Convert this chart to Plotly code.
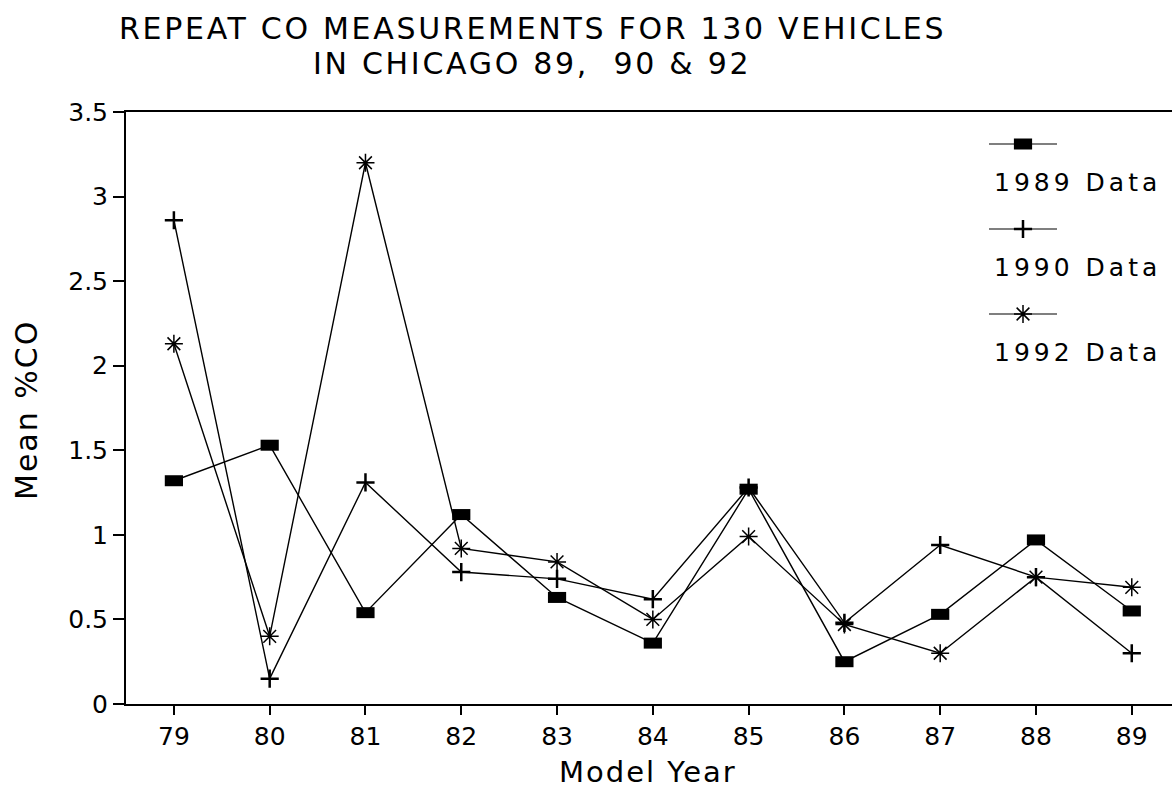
import plotly.graph_objects as go

# ---- data ----
model_years = [79, 80, 81, 82, 83, 84, 85, 86, 87, 88, 89]
tick_labels = ["79", "80", "81", "82", "83", "84", "85", "86", "87", "88", "89"]
co_1989 = [1.32, 1.53, 0.54, 1.12, 0.63, 0.36, 1.27, 0.25, 0.53, 0.97, 0.55]
co_1990 = [2.86, 0.15, 1.31, 0.78, 0.74, 0.62, 1.28, 0.48, 0.94, 0.75, 0.30]
co_1992 = [2.13, 0.40, 3.20, 0.92, 0.84, 0.50, 0.99, 0.47, 0.30, 0.75, 0.69]
series_names = ["1989 Data", "1990 Data", "1992 Data"]
y_ticks = [0, 0.5, 1, 1.5, 2, 2.5, 3, 3.5]
y_tick_labels = ["0", "0.5", "1", "1.5", "2", "2.5", "3", "3.5"]
title_lines = ["REPEAT CO MEASUREMENTS FOR 130 VEHICLES", "IN CHICAGO 89,  90 & 92"]

W, H = 1172, 792
L, R, T, B = 126, 0, 112, 88
FONT = "DejaVu Sans"


def spaced(text, px):
    return '<span style="letter-spacing:%.1fpx">%s</span>' % (px, text)


styles = [
    dict(symbol="line-ew", size=13, line=dict(color="black", width=11)),
    dict(symbol="cross-thin", size=13, line=dict(color="black", width=2.5)),
    dict(symbol="asterisk", size=15, line=dict(color="black", width=1.5)),
]

fig = go.Figure()
for name, vals, st in zip(series_names, [co_1989, co_1990, co_1992], styles):
    fig.add_trace(go.Scatter(
        x=model_years, y=vals, mode="lines+markers", name=name,
        line=dict(color="black", width=1.4),
        marker=dict(color="black", **st),
        showlegend=False,
    ))

# custom legend (line sample above text), on a hidden pixel-space overlay axis
pw, ph = W - L - R, H - T - B
leg_x0, leg_x1 = 989, 1057
leg_line_y = [144, 229, 314]
leg_text_y = [182, 267, 352]
for name, st, ly in zip(series_names, styles, leg_line_y):
    fig.add_trace(go.Scatter(
        x=[leg_x0, leg_x1], y=[ly, ly], mode="lines", xaxis="x2", yaxis="y2",
        line=dict(color="black", width=1.2), showlegend=False, hoverinfo="skip"))
    fig.add_trace(go.Scatter(
        x=[(leg_x0 + leg_x1) / 2], y=[ly], mode="markers", xaxis="x2", yaxis="y2",
        marker=dict(color="black", **st), showlegend=False, hoverinfo="skip"))

annotations = []
for name, ty in zip(series_names, leg_text_y):
    annotations.append(dict(x=992, y=ty, xref="x2", yref="y2", text=spaced(name, 4),
                            showarrow=False, xanchor="left", yanchor="middle",
                            font=dict(family=FONT, size=25, color="black")))


def pxx(px):
    return (px - L) / pw


def pxy(py):
    return (H - B - py) / ph


annotations.append(dict(x=pxx(532), y=pxy(28), xref="paper", yref="paper",
                        text=spaced(title_lines[0], 2.7),
                        showarrow=False, xanchor="center", yanchor="middle",
                        font=dict(family=FONT, size=30, color="black")))
annotations.append(dict(x=pxx(532), y=pxy(64), xref="paper", yref="paper",
                        text=spaced(title_lines[1], 2.7),
                        showarrow=False, xanchor="center", yanchor="middle",
                        font=dict(family=FONT, size=30, color="black")))
annotations.append(dict(x=pxx(648), y=pxy(772), xref="paper", yref="paper",
                        text=spaced("Model Year", 2),
                        showarrow=False, xanchor="center", yanchor="middle",
                        font=dict(family=FONT, size=29, color="black")))
annotations.append(dict(x=pxx(26), y=pxy(410), xref="paper", yref="paper",
                        text=spaced("Mean %CO", 2),
                        showarrow=False, xanchor="center", yanchor="middle", textangle=-90,
                        font=dict(family=FONT, size=30, color="black")))

fig.update_layout(
    width=W, height=H,
    margin=dict(l=L, r=R, t=T, b=B, pad=0),
    paper_bgcolor="white", plot_bgcolor="white",
    font=dict(family=FONT, color="black"),
    xaxis=dict(range=[78.5, 89.42], tickmode="array", tickvals=model_years, ticktext=tick_labels,
               ticks="outside", ticklen=9, tickwidth=1.5, tickcolor="black",
               showline=True, linewidth=2, linecolor="black", mirror=True,
               showgrid=False, zeroline=False, tickfont=dict(size=25, family=FONT, color="black")),
    yaxis=dict(range=[0, 3.5], tickmode="array", tickvals=y_ticks, ticktext=y_tick_labels,
               ticks="outside", ticklen=11, tickwidth=1.5, tickcolor="black",
               showline=True, linewidth=2, linecolor="black", mirror=False,
               showgrid=False, zeroline=False, tickfont=dict(size=25, family=FONT, color="black")),
    xaxis2=dict(range=[L, W - R], overlaying="x", visible=False, fixedrange=True),
    yaxis2=dict(range=[H - B, T], overlaying="y", visible=False, fixedrange=True),
    annotations=annotations,
    showlegend=False,
)

fig.write_html("out.html")
